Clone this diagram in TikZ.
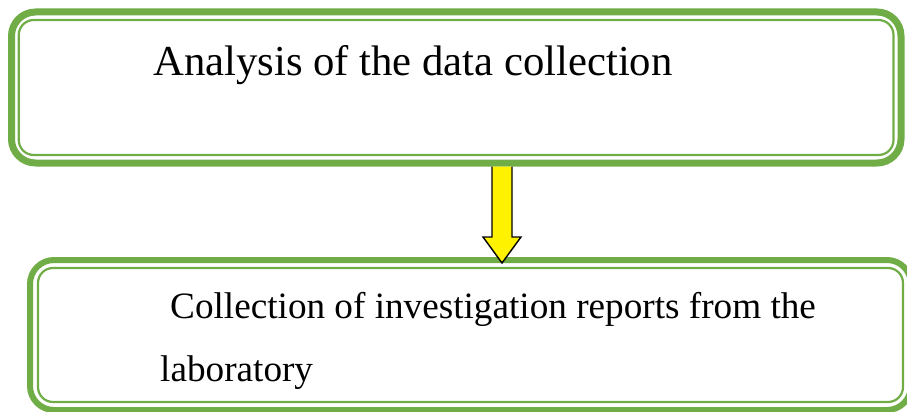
\documentclass[tikz,border=0pt]{standalone}
\usepackage{fontspec}
\setmainfont{Liberation Serif}
\usetikzlibrary{positioning}
\definecolor{officegreen}{HTML}{70AD47}
\tikzset{%
  % Specifications for style of nodes:
       greenbox/.style = {rectangle, rounded corners=24pt, draw=officegreen,
                          line width=7pt},
      innerline/.style = {draw=officegreen, line width=2.2pt, rounded corners=15pt},
       boxtext/.style  = {inner sep=0pt, anchor=base west, align=left},
     blockarrow/.style = {fill=yellow, draw=black, line width=1.4pt, line join=miter},
}

\begin{document}
\begin{tikzpicture}[x=1pt, y=-1pt]
  \clip (0,0) rectangle (907,412);
  % Specification of nodes (position, etc.)

  \node (analysis)	[greenbox, minimum width=889.5pt, minimum height=151pt] at (456.25,87.5) {};
  \node (collection)	[greenbox, line width=6pt, minimum width=881pt, minimum height=150pt] at (470.5,335) {};

  \draw[innerline]	([shift={(10.75,11.5)}]analysis.north west) rectangle ([shift={(-11,-11.5)}]analysis.south east);
  \draw[innerline]	([shift={(11,11)}]collection.north west) rectangle ([shift={(-11,-11)}]collection.south east);

  \node (analysistext)	[boxtext, font=\fontsize{42.7}{50}\selectfont] at (153,75) {Analysis of the data collection};
  % base anchor sits on the last line here
  \node (collectiontext)	[boxtext, font=\fontsize{37.2}{63}\selectfont] at (160,381)
	{\hspace*{10pt}Collection of investigation reports from the\\laboratory};

  \coordinate (tip) at (502,263);
  \path[blockarrow]	([xshift=-10pt]analysis.south -| tip) -- ++(0,70.5) -- ++(-9,0) -- (tip)
	-- ++(19,-26) -- ++(-9,0) -- ([xshift=10pt]analysis.south -| tip);

\end{tikzpicture}
\end{document}
